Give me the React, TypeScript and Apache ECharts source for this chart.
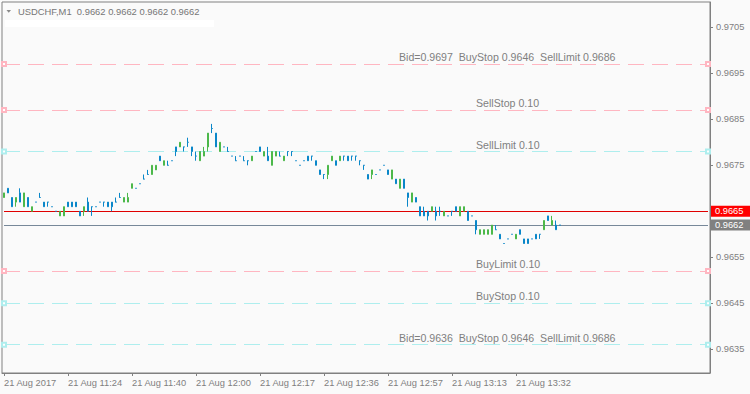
import React, { useEffect, useRef } from "react";
import * as echarts from "echarts";

// ---------- data ----------
const titleText = "USDCHF,M1  0.9662 0.9662 0.9662 0.9662";

const timeLabels = [
  "21 Aug 2017",
  "21 Aug 11:24",
  "21 Aug 11:40",
  "21 Aug 12:00",
  "21 Aug 12:17",
  "21 Aug 12:36",
  "21 Aug 12:57",
  "21 Aug 13:13",
  "21 Aug 13:32",
];
const barsPerLabel = 16;
const slotCount = 177;

// [open, close, low, high]
const candles: number[][] = [
  [0.9668, 0.9669, 0.9668, 0.9669],
  [0.967, 0.9669, 0.9669, 0.967],
  [0.9668, 0.9666, 0.9666, 0.9668],
  [0.9667, 0.9668, 0.9666, 0.9668],
  [0.9669, 0.9667, 0.9667, 0.967],
  [0.9666, 0.9669, 0.9666, 0.9669],
  [0.9668, 0.9666, 0.9666, 0.9668],
  [0.9665, 0.9666, 0.9665, 0.9666],
  [0.9667, 0.9667, 0.9667, 0.9667],
  [0.9668, 0.9668, 0.9668, 0.9669],
  [0.9667, 0.9666, 0.9666, 0.9667],
  [0.9667, 0.9667, 0.9666, 0.9667],
  [0.9666, 0.9666, 0.9666, 0.9666],
  [0.9665, 0.9665, 0.9665, 0.9665],
  [0.9664, 0.9665, 0.9664, 0.9665],
  [0.9664, 0.9666, 0.9664, 0.9666],
  [0.9667, 0.9666, 0.9666, 0.9667],
  [0.9667, 0.9666, 0.9666, 0.9667],
  [0.9667, 0.9666, 0.9666, 0.9667],
  [0.9665, 0.9664, 0.9664, 0.9665],
  [0.9665, 0.9666, 0.9664, 0.9666],
  [0.9667, 0.9665, 0.9665, 0.9668],
  [0.9666, 0.9666, 0.9664, 0.9666],
  [0.9666, 0.9666, 0.9666, 0.9666],
  [0.9667, 0.9667, 0.9667, 0.9667],
  [0.9667, 0.9667, 0.9666, 0.9667],
  [0.9667, 0.9666, 0.9666, 0.9667],
  [0.9667, 0.9666, 0.9665, 0.9667],
  [0.9667, 0.9667, 0.9667, 0.9668],
  [0.9668, 0.9668, 0.9668, 0.9669],
  [0.9667, 0.9668, 0.9667, 0.9668],
  [0.9667, 0.9668, 0.9667, 0.9669],
  [0.967, 0.9671, 0.967, 0.9671],
  [0.967, 0.967, 0.967, 0.967],
  [0.9671, 0.9671, 0.9671, 0.9671],
  [0.9672, 0.9672, 0.9672, 0.9673],
  [0.9673, 0.9673, 0.9673, 0.9674],
  [0.9673, 0.9675, 0.9673, 0.9675],
  [0.9674, 0.9675, 0.9674, 0.9675],
  [0.9677, 0.9676, 0.9676, 0.9677],
  [0.9675, 0.9676, 0.9675, 0.9676],
  [0.9675, 0.9675, 0.9675, 0.9676],
  [0.9676, 0.9676, 0.9676, 0.9676],
  [0.9679, 0.9678, 0.9677, 0.9679],
  [0.9679, 0.968, 0.9679, 0.968],
  [0.9679, 0.9679, 0.9678, 0.9679],
  [0.968, 0.968, 0.9679, 0.9681],
  [0.9679, 0.9678, 0.9677, 0.9679],
  [0.9677, 0.9677, 0.9676, 0.9678],
  [0.9676, 0.9678, 0.9676, 0.9678],
  [0.9677, 0.9678, 0.9677, 0.9679],
  [0.9679, 0.9682, 0.9678, 0.9682],
  [0.9683, 0.9683, 0.9682, 0.9684],
  [0.9682, 0.9679, 0.9679, 0.9682],
  [0.9678, 0.968, 0.9678, 0.968],
  [0.9679, 0.9679, 0.9679, 0.9679],
  [0.9678, 0.9678, 0.9678, 0.9679],
  [0.9677, 0.9677, 0.9677, 0.9677],
  [0.9676, 0.9676, 0.9676, 0.9677],
  [0.9677, 0.9677, 0.9677, 0.9677],
  [0.9676, 0.9676, 0.9676, 0.9677],
  [0.9676, 0.9676, 0.9675, 0.9676],
  [0.9676, 0.9677, 0.9676, 0.9677],
  [0.9678, 0.9678, 0.9678, 0.9678],
  [0.9679, 0.9678, 0.9678, 0.9679],
  [0.9677, 0.9678, 0.9677, 0.9678],
  [0.9677, 0.9676, 0.9676, 0.9679],
  [0.9675, 0.9678, 0.9675, 0.9678],
  [0.9677, 0.9678, 0.9677, 0.9678],
  [0.9677, 0.9677, 0.9677, 0.9678],
  [0.9676, 0.9677, 0.9676, 0.9677],
  [0.9678, 0.9678, 0.9677, 0.9678],
  [0.9678, 0.9678, 0.9677, 0.9678],
  [0.9676, 0.9676, 0.9676, 0.9676],
  [0.9675, 0.9675, 0.9675, 0.9675],
  [0.9676, 0.9676, 0.9676, 0.9676],
  [0.9677, 0.9676, 0.9676, 0.9677],
  [0.9677, 0.9677, 0.9676, 0.9677],
  [0.9676, 0.9675, 0.9675, 0.9676],
  [0.9674, 0.9673, 0.9673, 0.9674],
  [0.9673, 0.9673, 0.9672, 0.9673],
  [0.9673, 0.9675, 0.9672, 0.9675],
  [0.9676, 0.9677, 0.9676, 0.9677],
  [0.9676, 0.9675, 0.9675, 0.9676],
  [0.9676, 0.9677, 0.9676, 0.9677],
  [0.9677, 0.9677, 0.9676, 0.9677],
  [0.9677, 0.9676, 0.9676, 0.9677],
  [0.9677, 0.9677, 0.9676, 0.9677],
  [0.9677, 0.9677, 0.9676, 0.9677],
  [0.9676, 0.9676, 0.9675, 0.9676],
  [0.9675, 0.9675, 0.9674, 0.9675],
  [0.9673, 0.9672, 0.9672, 0.9673],
  [0.9673, 0.9674, 0.9672, 0.9674],
  [0.9673, 0.9673, 0.9673, 0.9673],
  [0.9674, 0.9674, 0.9674, 0.9674],
  [0.9675, 0.9675, 0.9675, 0.9675],
  [0.9674, 0.9673, 0.9673, 0.9674],
  [0.9672, 0.9674, 0.9672, 0.9674],
  [0.9672, 0.9671, 0.9671, 0.9672],
  [0.967, 0.9672, 0.967, 0.9672],
  [0.9672, 0.967, 0.967, 0.9672],
  [0.9669, 0.9668, 0.9666, 0.9669],
  [0.9667, 0.9669, 0.9667, 0.9669],
  [0.9668, 0.9667, 0.9667, 0.9668],
  [0.9666, 0.9664, 0.9664, 0.9666],
  [0.9665, 0.9664, 0.9664, 0.9666],
  [0.9665, 0.9664, 0.9663, 0.9665],
  [0.9665, 0.9666, 0.9665, 0.9666],
  [0.9665, 0.9664, 0.9663, 0.9666],
  [0.9665, 0.9665, 0.9664, 0.9666],
  [0.9664, 0.9665, 0.9664, 0.9665],
  [0.9664, 0.9664, 0.9664, 0.9664],
  [0.9665, 0.9665, 0.9664, 0.9665],
  [0.9666, 0.9665, 0.9665, 0.9666],
  [0.9664, 0.9666, 0.9664, 0.9666],
  [0.9665, 0.9666, 0.9665, 0.9666],
  [0.9665, 0.9663, 0.9663, 0.9665],
  [0.9664, 0.9664, 0.9664, 0.9664],
  [0.9663, 0.9661, 0.966, 0.9663],
  [0.966, 0.9661, 0.966, 0.9661],
  [0.966, 0.9661, 0.966, 0.9661],
  [0.966, 0.9661, 0.966, 0.9661],
  [0.966, 0.9662, 0.966, 0.9662],
  [0.9661, 0.9661, 0.9661, 0.9662],
  [0.966, 0.9659, 0.9659, 0.966],
  [0.9658, 0.9658, 0.9658, 0.9658],
  [0.9659, 0.9659, 0.9659, 0.9659],
  [0.966, 0.966, 0.966, 0.966],
  [0.9659, 0.966, 0.9659, 0.966],
  [0.9661, 0.966, 0.966, 0.9661],
  [0.9659, 0.9658, 0.9658, 0.9659],
  [0.9659, 0.9658, 0.9658, 0.9659],
  [0.9659, 0.9659, 0.9659, 0.9659],
  [0.966, 0.9659, 0.9659, 0.966],
  [0.966, 0.966, 0.9659, 0.966],
  [0.9661, 0.9663, 0.9661, 0.9663],
  [0.9664, 0.9663, 0.9663, 0.9664],
  [0.9662, 0.9663, 0.9662, 0.9664],
  [0.9662, 0.9661, 0.9661, 0.9663],
  [0.9662, 0.9662, 0.9662, 0.9662],
];

const priceTicks = [0.9635, 0.9645, 0.9655, 0.9675, 0.9685, 0.9695, 0.9705];
const priceMin = 0.962985;
const priceMax = 0.97105;

const askPrice = 0.9665;
const bidPrice = 0.9662;

const levelPrices = [0.9697, 0.9687, 0.9678, 0.9652, 0.9645, 0.9636];
const levelTexts = [
  "Bid=0.9697  BuyStop 0.9646  SellLimit 0.9686",
  "SellStop 0.10",
  "SellLimit 0.10",
  "BuyLimit 0.10",
  "BuyStop 0.10",
  "Bid=0.9636  BuyStop 0.9646  SellLimit 0.9686",
];
const levelKinds = ["info", "order", "order", "order", "order", "info"];

// ---------- styles ----------
const PINK = "#ffb6c1";
const CYAN = "#aeeeee";
const levelColors = [PINK, PINK, CYAN, PINK, CYAN, CYAN];
const BULL = "#4cb84a";
const BEAR = "#0a87c9";
const FRAME = "#808080";
const TEXT = "#7f7f7f";
const FONT = "'Liberation Sans', Arial, sans-serif";

export default function App() {
  const ref = useRef<HTMLDivElement>(null);

  useEffect(() => {
    if (!ref.current) return;
    const chart = echarts.init(ref.current, undefined, { renderer: "svg" });

    const categories = Array.from({ length: slotCount }, (_, i) => String(i));
    const showAt = (i: number) =>
      i % barsPerLabel === 0 && i / barsPerLabel < timeLabels.length;

    const levelLines = levelPrices.map((p, k) => [
      {
        coord: [0, p],
        symbol: "emptyRect",
        symbolSize: 4,
        lineStyle: { color: levelColors[k], type: [16, 8], width: 1 },
        label: {
          show: true,
          position: "insideStartTop",
          distance: [levelKinds[k] === "info" ? 395 : 472, 1.5],
          formatter: levelTexts[k],
          color: TEXT,
          fontFamily: FONT,
          fontSize: 10.6,
        },
      },
      { coord: [slotCount - 1, p], symbol: "emptyRect", symbolSize: 4 },
    ]);

    const priceLine = (p: number, lineColor: string, boxColor: string) => [
      {
        coord: [0, p],
        symbol: "none",
        lineStyle: { color: lineColor, type: "solid", width: 1 },
        label: {
          show: true,
          position: "end",
          distance: 3,
          formatter: p.toFixed(4),
          color: "#ffffff",
          backgroundColor: boxColor,
          padding: [0, 40, 0, 4],
          lineHeight: 11,
          fontFamily: FONT,
          fontSize: 9.3,
        },
      },
      { coord: [slotCount - 1, p], symbol: "none" },
    ];

    const option: any = {
      animation: false,
      backgroundColor: "#fafafa",
      grid: {
        left: 2,
        top: 2,
        width: 708,
        height: 371,
        show: true,
        borderColor: FRAME,
        borderWidth: 1,
        backgroundColor: "transparent",
      },
      graphic: [
        {
          type: "polygon",
          shape: { points: [[6.5, 10], [11, 10], [8.75, 12.8]] },
          style: { fill: "#8a8a8a" },
        },
        {
          type: "text",
          x: 18,
          y: 11.7,
          style: {
            text: titleText,
            fill: "#767676",
            font: `9.4px ${FONT}`,
            textVerticalAlign: "middle",
          },
        },
        {
          type: "rect",
          shape: { x: 5, y: 20, width: 209, height: 7 },
          style: { fill: "#ffffff" },
        },
      ],
      xAxis: {
        type: "category",
        data: categories,
        boundaryGap: true,
        axisLine: { show: true, lineStyle: { color: FRAME } },
        axisTick: {
          show: true,
          alignWithLabel: true,
          length: 3,
          interval: (i: number) => showAt(i),
          lineStyle: { color: FRAME },
        },
        axisLabel: {
          interval: (i: number) => showAt(i),
          align: "left",
          margin: 5,
          color: TEXT,
          fontFamily: FONT,
          fontSize: 9.3,
          formatter: (_v: string, i: number) =>
            showAt(i) ? timeLabels[i / barsPerLabel] : "",
        },
        splitLine: { show: false },
      },
      yAxis: {
        type: "value",
        position: "right",
        min: priceMin,
        max: priceMax,
        axisLine: { show: true, lineStyle: { color: FRAME } },
        axisTick: {
          show: true,
          length: 3,
          customValues: priceTicks,
          lineStyle: { color: FRAME },
        },
        axisLabel: {
          customValues: priceTicks,
          margin: 6,
          color: TEXT,
          fontFamily: FONT,
          fontSize: 9.3,
          formatter: (v: number) => v.toFixed(4),
        },
        splitLine: { show: false },
      },
      series: [
        {
          type: "candlestick",
          data: candles,
          barWidth: 2,
          itemStyle: {
            color: BULL,
            color0: BEAR,
            borderColor: BULL,
            borderColor0: BEAR,
            borderColorDoji: BEAR,
            borderWidth: 1,
          },
          markLine: {
            silent: true,
            animation: false,
            z: 1,
            symbol: ["none", "none"],
            data: [
              ...levelLines,
              priceLine(askPrice, "#e00000", "#ff0000"),
              priceLine(bidPrice, "#778899", "#808080"),
            ],
          },
        },
      ],
    };

    chart.setOption(option);
    return () => chart.dispose();
  }, []);

  return (
    <div
      ref={ref}
      style={{ position: "fixed", left: 0, top: 0, width: 750, height: 394 }}
    />
  );
}
